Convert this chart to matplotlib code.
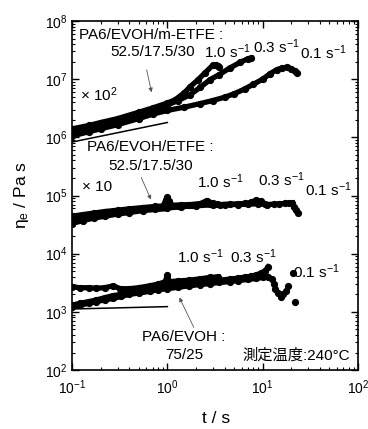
import matplotlib
matplotlib.use("Agg")
import matplotlib.pyplot as plt
from matplotlib.ticker import LogLocator, NullFormatter

plt.rcParams["font.family"] = ["Liberation Sans", "Noto Sans CJK JP"]
plt.rcParams["mathtext.fontset"] = "custom"
plt.rcParams["mathtext.rm"] = "Liberation Sans"
plt.rcParams["mathtext.it"] = "Liberation Sans:italic"
plt.rcParams["mathtext.bf"] = "Liberation Sans:bold"

# --- PA6/EVOH/m-ETFE 52.5/17.5/30 (x 10^2) ---
g1_t_10 = [0.1, 0.15, 0.2, 0.3, 0.5, 0.7, 1.0, 1.2, 1.5, 1.73, 2.1, 2.5, 3.0, 3.2, 3.4, 3.5]
g1_e_10 = [1.4e6, 1.6e6, 1.8e6, 2.1e6, 2.7e6, 3.2e6, 3.9e6, 4.4e6, 5.8e6, 7.4e6, 9.8e6, 1.3e7, 1.74e7, 1.78e7, 1.68e7, 1.6e7]
g1_t_03 = [0.1, 0.15, 0.2, 0.3, 0.5, 0.7, 1.0, 1.3, 1.73, 2.2, 2.8, 3.5, 4.5, 5.8, 7.0, 7.6]
g1_e_03 = [1.2e6, 1.4e6, 1.6e6, 1.9e6, 2.4e6, 2.9e6, 3.6e6, 4.3e6, 5.4e6, 7.2e6, 9.8e6, 1.2e7, 1.55e7, 1.95e7, 2.25e7, 2.3e7]
g1_t_01 = [0.1, 0.15, 0.2, 0.3, 0.5, 0.7, 1.0, 1.5, 2.2, 3.0, 4.0, 5.0, 6.5, 8.0, 10, 12, 14, 16, 18, 20, 22, 23]
g1_e_01 = [1.05e6, 1.25e6, 1.4e6, 1.65e6, 2.1e6, 2.5e6, 2.9e6, 3.3e6, 3.8e6, 4.3e6, 4.9e6, 5.6e6, 6.8e6, 8.2e6,
           1.0e7, 1.25e7, 1.45e7, 1.57e7, 1.6e7, 1.52e7, 1.37e7, 1.27e7]
g1_lin_t = [0.1, 0.3, 1.0]
g1_lin_e = [8.3e5, 1.2e6, 1.8e6]

# --- PA6/EVOH/ETFE 52.5/17.5/30 (x 10) ---
g2_t_10 = [0.1, 0.13, 0.17, 0.22, 0.3, 0.4, 0.55, 0.75, 0.9, 0.97, 1.0, 1.03, 1.1, 1.4, 1.8, 2.3, 2.8, 3.3]
g2_e_10 = [4.4e4, 4.7e4, 5.0e4, 5.3e4, 5.6e4, 5.9e4, 6.2e4, 6.5e4, 6.6e4, 8.5e4, 9.3e4, 8.0e4, 6.8e4, 6.9e4,
           7.0e4, 7.2e4, 7.1e4, 7.2e4]
g2_t_03 = [0.1, 0.13, 0.17, 0.22, 0.3, 0.4, 0.55, 0.75, 1.0, 1.3, 1.7, 2.2, 2.6, 3.0, 3.6, 4.5, 5.5, 6.5, 7.5,
           8.5, 9.5, 10.5]
g2_e_03 = [3.8e4, 4.2e4, 4.5e4, 4.8e4, 5.1e4, 5.4e4, 5.8e4, 6.1e4, 6.4e4, 6.6e4, 6.9e4, 7.2e4, 8.2e4, 7.3e4,
           7.0e4, 7.1e4, 7.2e4, 7.3e4, 7.6e4, 8.3e4, 8.0e4, 7.2e4]
g2_t_01 = [0.1, 0.13, 0.17, 0.22, 0.3, 0.4, 0.55, 0.75, 1.0, 1.4, 2, 3, 4, 5.5, 7, 9, 11, 13, 15, 17, 19, 20.5]
g2_e_01 = [3.3e4, 3.7e4, 4.1e4, 4.4e4, 4.8e4, 5.1e4, 5.5e4, 5.8e4, 6.1e4, 6.4e4, 6.7e4, 6.9e4, 7.0e4, 7.0e4,
           7.1e4, 7.2e4, 7.0e4, 7.1e4, 7.2e4, 7.3e4, 7.4e4, 7.5e4]
g2_tail_t = [21.5, 22.5, 23.5]
g2_tail_e = [6.3e4, 5.6e4, 5.0e4]
g2_lin_t = [0.1, 0.3, 1.0]
g2_lin_e = [4.6e4, 5.0e4, 5.5e4]

# --- PA6/EVOH 75/25 ---
g3_t_10 = [0.1, 0.12, 0.15, 0.18, 0.22, 0.27, 0.32, 0.4, 0.5, 0.65, 0.8, 0.95, 1.0, 1.05, 1.3, 1.7, 2.2, 2.8, 3.4]
g3_e_10 = [2.7e3, 2.6e3, 2.6e3, 2.55e3, 2.6e3, 2.8e3, 2.5e3, 2.5e3, 2.6e3, 2.8e3, 3.0e3, 3.3e3, 4.3e3, 3.3e3,
           3.4e3, 3.5e3, 3.7e3, 3.9e3, 4.0e3]
g3_t_03 = [0.1, 0.12, 0.15, 0.18, 0.22, 0.27, 0.33, 0.4, 0.5, 0.65, 0.8, 1.0, 1.3, 1.7, 2.2, 2.8, 3.5, 4.5, 5.5,
           6.5, 7.5, 8.5, 9.5, 10.5, 11.4]
g3_e_03 = [1.3e3, 1.4e3, 1.5e3, 1.6e3, 1.75e3, 1.9e3, 2.0e3, 2.15e3, 2.3e3, 2.45e3, 2.6e3, 2.75e3, 2.9e3, 3.05e3,
           3.2e3, 3.35e3, 3.5e3, 3.65e3, 3.8e3, 3.95e3, 4.1e3, 4.3e3, 4.6e3, 5.0e3, 5.9e3]
g3_t_01 = [0.1, 0.12, 0.15, 0.18, 0.22, 0.27, 0.33, 0.4, 0.5, 0.65, 0.8, 1.0, 1.3, 1.7, 2.2, 2.8, 3.5, 4.5, 5.5,
           7, 8.5, 10, 11.5, 12.5]
g3_e_01 = [1.2e3, 1.3e3, 1.4e3, 1.5e3, 1.6e3, 1.7e3, 1.85e3, 2.0e3, 2.1e3, 2.25e3, 2.4e3, 2.5e3, 2.65e3, 2.8e3,
           2.95e3, 3.05e3, 3.2e3, 3.3e3, 3.45e3, 3.6e3, 3.75e3, 3.9e3, 4.0e3, 3.6e3]
g3_tail_t = [13, 13.5, 14.5, 15.5, 16.5, 17.5, 18.5, 21, 22]
g3_tail_e = [3.0e3, 2.5e3, 2.1e3, 1.8e3, 2.0e3, 2.3e3, 2.8e3, 4.6e3, 1.45e3]
g3_lin_t = [0.1, 0.3, 1.0]
g3_lin_e = [1.12e3, 1.17e3, 1.23e3]

fig = plt.figure(figsize=(3.68, 4.29), dpi=100)
ax = fig.add_axes([0.1957, 0.1375, 0.7772, 0.8135])

curves = [(g1_t_10, g1_e_10), (g1_t_03, g1_e_03), (g1_t_01, g1_e_01),
          (g2_t_10, g2_e_10), (g2_t_03, g2_e_03), (g2_t_01, g2_e_01),
          (g3_t_10, g3_e_10), (g3_t_03, g3_e_03), (g3_t_01, g3_e_01)]
for t, e in curves:
    ax.plot(t, e, "o-", color="black", ms=4.2, lw=3.8)
for t, e in [(g2_tail_t, g2_tail_e), (g3_tail_t, g3_tail_e)]:
    ax.plot(t, e, "o", color="black", ms=4.2, ls="none")
for t, e in [(g1_lin_t, g1_lin_e), (g2_lin_t, g2_lin_e), (g3_lin_t, g3_lin_e)]:
    ax.plot(t, e, "-", color="black", lw=1.1)

ax.set_xscale("log")
ax.set_yscale("log")
ax.set_xlim(0.1, 100)
ax.set_ylim(1e2, 1e8)
ax.xaxis.set_minor_locator(LogLocator(base=10, subs=range(2, 10)))
ax.yaxis.set_minor_locator(LogLocator(base=10, subs=range(2, 10)))
ax.xaxis.set_minor_formatter(NullFormatter())
ax.yaxis.set_minor_formatter(NullFormatter())
ax.tick_params(which="both", direction="in", top=True, right=True, labelsize=10)
ax.tick_params(which="major", length=5, width=1)
ax.tick_params(which="minor", length=2.5, width=0.8)
ax.tick_params(axis="x", pad=6)
for s in ax.spines.values():
    s.set_linewidth(1.2)

fig.text(216 / 368, 0.024, "t / s", fontsize=12.5, ha="center", va="center")
ax.set_ylabel(r"η$_\mathregular{e}$ / Pa s", fontsize=12.5, labelpad=10)

fs = 11
tr = ax.transAxes
ax.text(0.0245, 0.960, "PA6/EVOH/m-ETFE :", transform=tr, fontsize=fs, va="center")
ax.text(0.133, 0.911, "52.5/17.5/30", transform=tr, fontsize=fs, va="center")
ax.text(0.462, 0.911, r"1.0 s$^{-1}$", transform=tr, fontsize=fs, va="center")
ax.text(0.633, 0.926, r"0.3 s$^{-1}$", transform=tr, fontsize=fs, va="center")
ax.text(0.797, 0.908, r"0.1 s$^{-1}$", transform=tr, fontsize=fs, va="center")
ax.text(0.028, 0.788, r"× 10$^{2}$", transform=tr, fontsize=fs, va="center")

ax.text(0.052, 0.639, "PA6/EVOH/ETFE :", transform=tr, fontsize=fs, va="center")
ax.text(0.126, 0.585, "52.5/17.5/30", transform=tr, fontsize=fs, va="center")
ax.text(0.035, 0.524, "× 10", transform=tr, fontsize=fs, va="center")
ax.text(0.437, 0.539, r"1.0 s$^{-1}$", transform=tr, fontsize=fs, va="center")
ax.text(0.650, 0.544, r"0.3 s$^{-1}$", transform=tr, fontsize=fs, va="center")
ax.text(0.815, 0.516, r"0.1 s$^{-1}$", transform=tr, fontsize=fs, va="center")

ax.text(0.367, 0.324, r"1.0 s$^{-1}$", transform=tr, fontsize=fs, va="center")
ax.text(0.552, 0.324, r"0.3 s$^{-1}$", transform=tr, fontsize=fs, va="center")
ax.text(0.773, 0.281, r"0.1 s$^{-1}$", transform=tr, fontsize=fs, va="center")
ax.text(0.245, 0.0946, "PA6/EVOH :", transform=tr, fontsize=fs, va="center")
ax.text(0.325, 0.043, "75/25", transform=tr, fontsize=fs, va="center")
ax.text(0.972, 0.043, "測定温度:240°C", transform=tr, fontsize=fs, va="center", ha="right")

arrow = dict(arrowstyle="-|>", color="#555555", lw=0.6, mutation_scale=6)
ax.annotate("", xy=(0.280, 0.788), xytext=(0.259, 0.868), xycoords=tr, textcoords=tr, arrowprops=arrow)
ax.annotate("", xy=(0.280, 0.481), xytext=(0.238, 0.559), xycoords=tr, textcoords=tr, arrowprops=arrow)
ax.annotate("", xy=(0.371, 0.215), xytext=(0.430, 0.115), xycoords=tr, textcoords=tr, arrowprops=arrow)

fig.savefig("out.png", dpi=100)
